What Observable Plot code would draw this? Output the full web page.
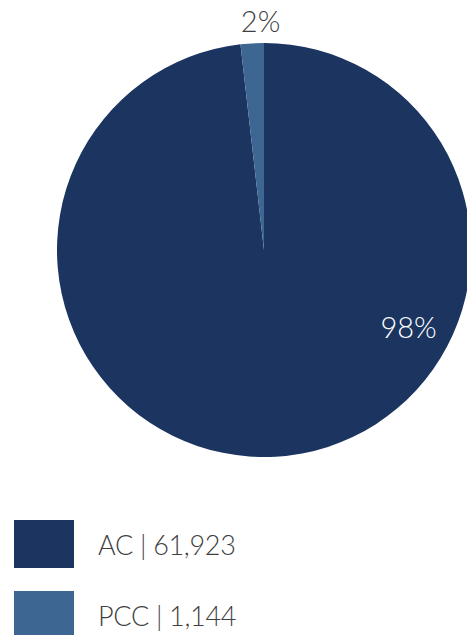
<!DOCTYPE html>
<html>
<head>
<meta charset="utf-8">
<script src="https://cdn.jsdelivr.net/npm/d3@7"></script>
<script src="https://cdn.jsdelivr.net/npm/@observablehq/plot@0.6"></script>
<style>
  html, body { margin: 0; padding: 0; background: #fff; overflow: hidden; }
  body { width: 467px; height: 635px; font-family: Lato, "Open Sans", sans-serif; }
  .legend { margin-top: 40px; margin-left: 14px; }
  .row { display: flex; align-items: center; height: 48px; margin-bottom: 23px; }
  .sw { width: 60px; height: 48px; margin-right: 24px; }
  .lab { font-size: 27px; font-weight: 300; color: #3f3f3f; letter-spacing: -0.3px; }
</style>
</head>
<body>
<div id="chart"></div>
<div class="legend" id="legend"></div>
<script>
const categories = ["AC", "PCC"];
const values = [61923, 1144];
const percentLabels = ["98%", "2%"];
const colors = ["#1b3560", "#3d6692"];

const data = categories.map((c, i) => ({category: c, value: values[i], label: percentLabels[i]}));
const arcs = d3.pie().sort(null).value(d => d.value)(data);

// label anchor positions in unit-circle coordinates
const labelPos = {AC: [0.696, -0.377], PCC: [-0.019, 1.10]};
const labelColor = {AC: "#ffffff", PCC: "#3f3f3f"};
const labels = data.map(d => ({...d, lx: labelPos[d.category][0], ly: labelPos[d.category][1]}));

function pieMark(index, scales, values2, dims, context) {
  const cx = scales.x(0), cy = scales.y(0);
  const r = scales.x(1) - scales.x(0);
  const g = d3.create("svg:g").attr("transform", `translate(${cx},${cy})`);
  const arc = d3.arc().innerRadius(0).outerRadius(r);
  g.selectAll("path").data(arcs).join("path")
    .attr("d", arc)
    .attr("fill", d => scales.color(d.data.category));
  return g.node();
}

const plot = Plot.plot({
  width: 467,
  height: 480,
  margin: 0,
  x: {domain: [-1, 1], range: [57, 471], axis: null},
  y: {domain: [-1, 1], range: [457, 43], axis: null},
  color: {domain: categories, range: colors},
  style: {fontFamily: "Lato, 'Open Sans', sans-serif", overflow: "visible"},
  marks: [
    Plot.dot([{x: 0, y: 0}], {x: "x", y: "y", r: 0, render: pieMark}),
    Plot.text(labels, {
      x: "lx", y: "ly", text: "label",
      fill: d => labelColor[d.category],
      fontSize: 29, fontWeight: 300
    })
  ]
});
document.getElementById("chart").appendChild(plot);

const legend = d3.select("#legend");
data.forEach((d, i) => {
  const row = legend.append("div").attr("class", "row");
  row.append("div").attr("class", "sw").style("background", colors[i]);
  row.append("div").attr("class", "lab").text(`${d.category} | ${d3.format(",")(d.value)}`);
});
</script>
</body>
</html>
